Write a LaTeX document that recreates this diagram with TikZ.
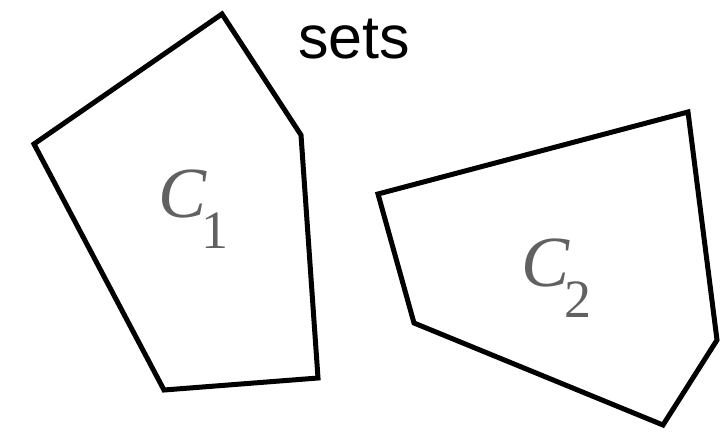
\documentclass[tikz,border=0pt]{standalone}
\usepackage{fontspec}
\setmainfont{Liberation Serif}
\newfontfamily\labelsans{Liberation Sans}
\newcommand{\setlabel}[1]{{\itshape C}\kern-5pt\raisebox{-31pt}{\upshape\fontsize{54}{54}\selectfont #1}}
\begin{document}
\begin{tikzpicture}[x=1pt,y=-1pt,
  setline/.style={line width=5pt, line join=miter, black},
  clabel/.style={text=black!62, font=\fontsize{72}{72}\selectfont, inner sep=0pt, anchor=base west}]
\useasboundingbox (0,0) rectangle (728,431);
\draw[setline] (222,14) -- (301,135) -- (318,378) -- (164,390) -- (34,144) -- cycle;
\draw[setline] (378,194) -- (688,112) -- (717,340) -- (663,425) -- (414,323) -- cycle;
\node[font=\labelsans\fontsize{61}{61}\selectfont, inner sep=0pt, anchor=base west] (sets) at (298,58) {sets};
\node[clabel] (c1) at (158,217) {\setlabel{1}};
\node[clabel] (c2) at (521,286) {\setlabel{2}};
\end{tikzpicture}
\end{document}
